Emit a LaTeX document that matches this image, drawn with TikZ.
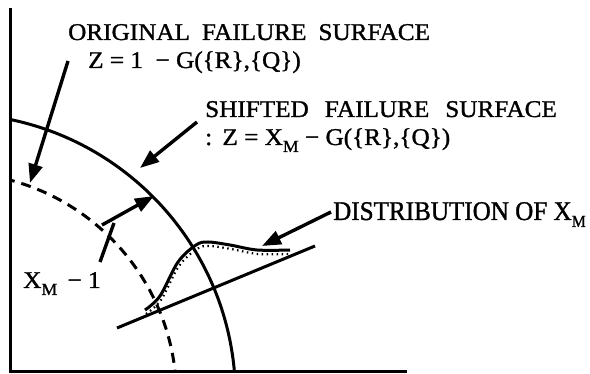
\documentclass[tikz,border=0pt]{standalone}
\usepackage{fontspec}
\setmainfont{Liberation Serif}
\newfontfamily\lblfont[FakeStretch=1.05,FakeBold=1.2]{Liberation Serif}
\newfontfamily\distfont[FakeStretch=0.93,FakeBold=1.2]{Liberation Serif}
\usetikzlibrary{arrows.meta}
\newcommand\msub[1]{\raisebox{-7pt}{\fontsize{17}{17}\selectfont #1}}
\begin{document}
\begin{tikzpicture}[x=1pt,y=-1pt,
  axisline/.style={line width=3pt},
  surf/.style={line width=3pt},
  origsurf/.style={line width=3pt, dash pattern=on 10pt off 7pt},
  ptr/.style={line width=3.4pt, -{Triangle[length=19pt,width=14pt]}},
  leader/.style={line width=3.4pt},
  lbl/.style={inner sep=0pt, anchor=base west, font=\lblfont\fontsize{24}{28}\selectfont},
  distlbl/.style={inner sep=0pt, anchor=base west, font=\distfont\fontsize{27}{28}\selectfont}]
\useasboundingbox (0,0) rectangle (590,374);
\coordinate (ytop) at (10,8);
\coordinate (orig) at (10,372);
\coordinate (xend) at (407,372);
\coordinate (C) at (-47.5,396.6);
\begin{scope}
  \clip (10,0) rectangle (590,372);
  \draw[surf] (C) circle[radius=283pt];
  \draw[origsurf] (C) circle[radius=224pt];
\end{scope}
\draw[axisline] (ytop) -- (orig) -- (xend);
% labels
\node[lbl] (t1) at (68,40) {ORIGINAL\hspace{12pt}FAILURE\hspace{12pt}SURFACE};
\node[lbl] (t2) at (88,68) {Z = 1 \ − G(\{R\},\{Q\})};
\node[lbl] (s1) at (205,117) {SHIFTED\hspace{16pt}FAILURE\hspace{16pt}SURFACE};
\node[lbl] (s2) at (205,145) {:\ \,Z = X\msub{M} − G(\{R\},\{Q\})};
\node[lbl] (xm) at (23,288) {X\msub{M}\, − 1};
\node[distlbl] (dist) at (333,220) {DISTRIBUTION OF X\msub{M}};
% arrows
\coordinate (oTail) at (68,61);
\coordinate (oTip) at (30,183);
\draw[ptr] (oTail) -- (oTip);
\coordinate (sTail) at (197,122);
\coordinate (sTip) at (140,168);
\draw[ptr] (sTail) -- (sTip);
\coordinate (mStart) at (102,225);
\coordinate (mTip) at (154,196);
\draw[ptr] (mStart) -- (mTip);
\coordinate (lStart) at (100,262);
\coordinate (lEnd) at (114,223);
\draw[leader] (lStart) -- (lEnd);
\coordinate (dTail) at (331,212);
\coordinate (dTip) at (262,246);
\draw[ptr] (dTail) -- (dTip);
% distribution
\coordinate (b1) at (117,328);
\coordinate (b2) at (315,246);
\draw[surf] (b1) -- (b2);
\draw[line width=3pt] plot[smooth, tension=0.55] coordinates {(145,310) (160,296) (178,262) (196,245) (208,242) (230,245) (257,250) (290,250)};
\draw[line width=2.2pt, dash pattern=on 1.5pt off 3.5pt, shift={(1,4)}] plot[smooth, tension=0.55] coordinates {(145,310) (160,296) (178,262) (196,245) (208,242) (230,245) (257,250) (290,250)};
\end{tikzpicture}
\end{document}
